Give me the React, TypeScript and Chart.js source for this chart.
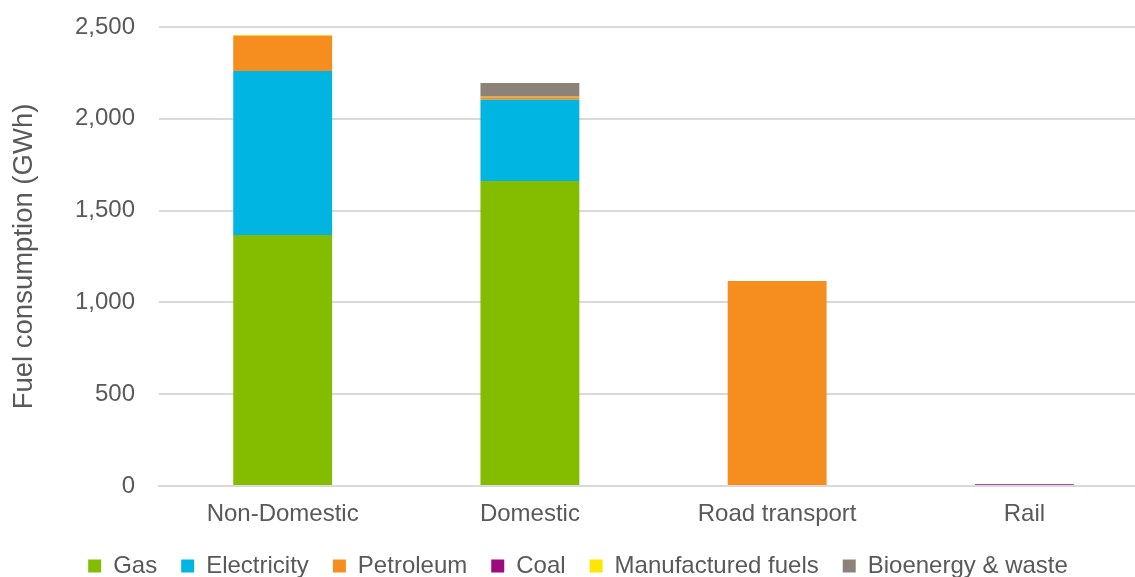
import React, { useEffect, useRef } from "react";
import { Chart, registerables } from "chart.js";

Chart.register(...registerables);

const categories = ["Non-Domestic", "Domestic", "Road transport", "Rail"];
const gas = [1367, 1661, 0, 0];
const electricity = [893, 443, 0, 0];
const petroleum = [193, 13, 1117, 0];
const coal = [0, 0, 0, 10];
const manufacturedFuels = [4, 3, 0, 0];
const bioenergy = [0, 75, 0, 0];
const yTicks = [0, 500, 1000, 1500, 2000, 2500];

const FONT = "Liberation Sans, Arial, sans-serif";

export default function App() {
  const ref = useRef<HTMLCanvasElement | null>(null);
  useEffect(() => {
    document.body.style.margin = "0";
    const ctx = ref.current!;
    const mk = (label: string, data: number[], color: string) => ({
      label,
      data,
      backgroundColor: color,
      borderWidth: 0,
      categoryPercentage: 1,
      barPercentage: 0.4,
    });
    const chart = new Chart(ctx, {
      type: "bar",
      data: {
        labels: categories,
        datasets: [
          mk("Gas", gas, "#84bd00"),
          mk("Electricity", electricity, "#00b5e2"),
          mk("Petroleum", petroleum, "#f68d1f"),
          mk("Coal", coal, "#9c0a7d"),
          mk("Manufactured fuels", manufacturedFuels, "#ffe600"),
          mk("Bioenergy & waste", bioenergy, "#8c8279"),
        ],
      },
      options: {
        animation: false,
        responsive: false,
        maintainAspectRatio: false,
        layout: { padding: { top: 27, right: 0, left: 8, bottom: -11 } },
        plugins: {
          tooltip: { enabled: false },
          legend: {
            position: "bottom",
            labels: {
              boxWidth: 13,
              boxHeight: 13,
              padding: 24,
              color: "#595959",
              font: { family: FONT, size: 24 },
            },
          },
        },
        scales: {
          x: {
            stacked: true,
            grid: { display: false, drawTicks: false },
            border: { display: true, color: "#d9d9d9", width: 2 },
            ticks: {
              color: "#595959",
              padding: 14,
              font: { family: FONT, size: 24 },
            },
            afterFit: (scale: any) => {
              scale.height = 44;
              scale.paddingLeft = 0;
              scale.paddingRight = 0;
            },
          },
          y: {
            stacked: true,
            min: 0,
            max: 2500,
            afterBuildTicks: (axis: any) => {
              axis.ticks = yTicks.map((v) => ({ value: v }));
            },
            afterFit: (scale: any) => {
              scale.paddingTop = 0;
              scale.paddingBottom = 0;
            },
            grid: { color: "#d9d9d9", lineWidth: 2, drawTicks: false },
            border: { display: false },
            title: {
              display: true,
              text: "Fuel consumption (GWh)",
              color: "#595959",
              font: { family: FONT, size: 27.5 },
              padding: { top: 0, bottom: 10 },
            },
            ticks: {
              color: "#595959",
              padding: 24,
              font: { family: FONT, size: 24 },
              callback: (v: any) => Number(v).toLocaleString("en-US"),
            },
          },
        },
      },
    });
    return () => chart.destroy();
  }, []);
  return (
    <div style={{ position: "absolute", left: 0, top: 0, width: 1135, height: 577, overflow: "hidden" }}>
      <canvas ref={ref} width={1148} height={577} style={{ width: 1148, height: 577 }} />
    </div>
  );
}
